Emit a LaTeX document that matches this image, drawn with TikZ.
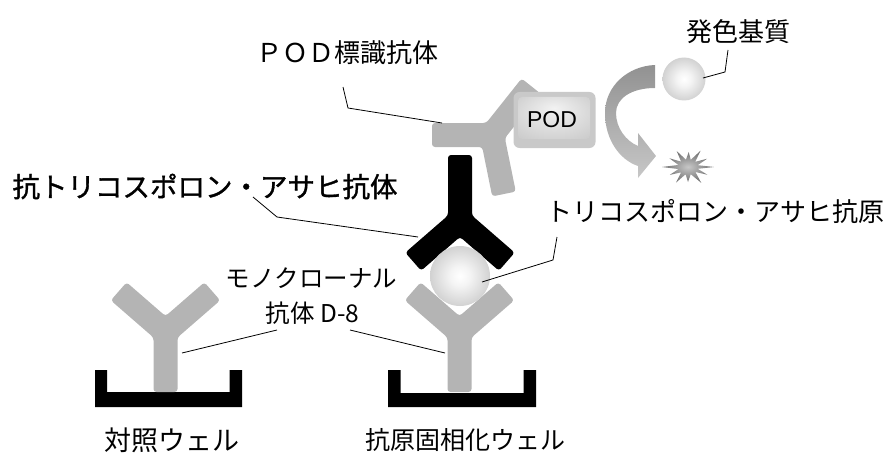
\documentclass[tikz,border=0pt]{standalone}
\usepackage{fontspec}
\usetikzlibrary{calc}
\setmainfont{Liberation Sans}
\newfontfamily\jp{Noto Sans CJK JP}
\newfontfamily\jpb[FakeBold=1.2]{Noto Sans CJK JP}
\definecolor{abgray}{RGB}{180,180,180}
\pgfdeclareradialshading{sph}{\pgfpoint{0bp}{0bp}}{color(0bp)=(white); color(8bp)=(white!96!black); color(50bp)=(black!38)}
\pgfdeclareradialshading{burst}{\pgfpoint{0bp}{0bp}}{color(0bp)=(black!22); color(20bp)=(black!50); color(50bp)=(black!80)}
\pgfdeclareradialshading{podin}{\pgfpoint{0bp}{12bp}}{color(0bp)=(black!5); color(50bp)=(black!26)}
\newcommand\drawab[5]{%
  \begin{scope}[shift={(#1,#2)},yscale=#3]
    \fill[#4,rounded corners=3pt] (-12,#5) -- (12,#5) -- (12,5.5) -- (54.7,-31.6) -- (38.9,-49.7) -- (0,-15.9) -- (-38.9,-49.7) -- (-54.7,-31.6) -- (-12,5.5) -- cycle;
  \end{scope}}
\tikzset{
  lead/.style={draw=black, line width=0.8pt},
  lbl/.style={inner sep=0pt, font=\jp\fontsize{#1}{#1}\selectfont},
  lblb/.style={inner sep=0pt, font=\jpb\fontsize{#1}{#1}\selectfont},
  well/.style={fill=black}
}
\begin{document}
\begin{tikzpicture}[x=1pt,y=-1pt]
\useasboundingbox (0,0) rectangle (887,460);
% wells
\fill[well] (95,370) -- (95,407) -- (242,407) -- (242,370) -- (229.5,370) -- (229.5,392) -- (107,392) -- (107,370) -- cycle;
\fill[well] (388,370) -- (388,407) -- (536,407) -- (536,370) -- (523.5,370) -- (523.5,393) -- (400.5,393) -- (400.5,370) -- cycle;
% monoclonal antibodies
\drawab{165.5}{332}{1}{abgray}{60}
\drawab{459.5}{332}{1}{abgray}{60}
% anti antibody (black, inverted)
\drawab{460}{221}{-1}{black}{66}
% POD labelled antibody
\fill[abgray, rounded corners=3pt] (432,123) -- (486.2,123) -- (521.6,78.5) -- (540.4,93.5) -- (504.9,138.1) -- (515.8,191.6) -- (492.2,196.4) -- (482.2,147) -- (432,147) -- cycle;
% POD box
\fill[black!21, rounded corners=6pt] (513.5,92) rectangle (595.5,148);
\shade[shading=podin, rounded corners=4pt] (518,97) rectangle (590,139);
\node[inner sep=0pt, font=\fontsize{23}{23}\selectfont] (pod) at (552,120) {POD};
% antigen
\shade[shading=sph] (460,276) circle[radius=30];
\coordinate (antigen) at (482,282);
% substrate
\shade[shading=sph] (684,79) circle[radius=21.5];
\coordinate (substrate) at (703,78);
% curved arrow
\shade[top color=black!43, bottom color=black!22] (655,65) .. controls (628,66) and (605,86) .. (605,113) .. controls (605,140) and (620,160) .. (638,166) -- (638,178) -- (656,156) -- (638,133) -- (638,146) .. controls (626,141) and (616,128) .. (616,113) .. controls (616,98) and (632,88) .. (655,88) -- cycle;
% burst
\shade[shading=burst] (714,167) \foreach \a/\r in {14/10,28/22,42/10,58/25,74/10,90/20,104/10,120/24,134/10,150/21,164/10,180/26,196/10,212/22,226/10,242/24,258/10,272/20,286/10,300/25,316/10,330/22,346/10} { -- ($(688,167)+({\a}:{\r} and {\r*0.75})$) } -- cycle;
% labels
\node[lbl=26] (lsub) at (738,32) {発色基質};
\node[lbl=26] (lpod) at (347.5,53) {ＰＯＤ標識抗体};
\node[lblb=27.5] (lanti) at (205,186.5) {抗トリコスポロン・アサヒ抗体};
\node[lbl=26] (lag) at (715.5,211.5) {トリコスポロン・アサヒ抗原};
\node[lbl=24.5] (lmono1) at (311.5,278) {モノクローナル};
\node[lbl=24.5] (lmono2) at (312.5,313) {抗体 D-8};
\node[lbl=27] (lctrl) at (171.5,440.5) {対照ウェル};
\node[lbl=25] (lwell) at (465,440.5) {抗原固相化ウェル};
% leader coordinates
\coordinate (s1) at (728,50);
\coordinate (s2) at (725,72);
\coordinate (p1) at (343,87);
\coordinate (p2) at (348,108);
\coordinate (pab) at (442,123);
\coordinate (a1) at (253,197);
\coordinate (a2) at (277,217);
\coordinate (aab) at (418,237);
\coordinate (g1) at (557,237);
\coordinate (g2) at (553,260);
\coordinate (m1) at (277,330);
\coordinate (m2) at (350,330);
\coordinate (mab1) at (182,353);
\coordinate (mab2) at (445,353);
% leaders
\draw[lead] (s1) -- (s2) -- (substrate);
\draw[lead] (p1) -- (p2) -- (pab);
\draw[lead] (a1) -- (a2) -- (aab);
\draw[lead] (g1) -- (g2) -- (antigen);
\draw[lead] (m1) -- (mab1);
\draw[lead] (m2) -- (mab2);
\end{tikzpicture}
\end{document}
